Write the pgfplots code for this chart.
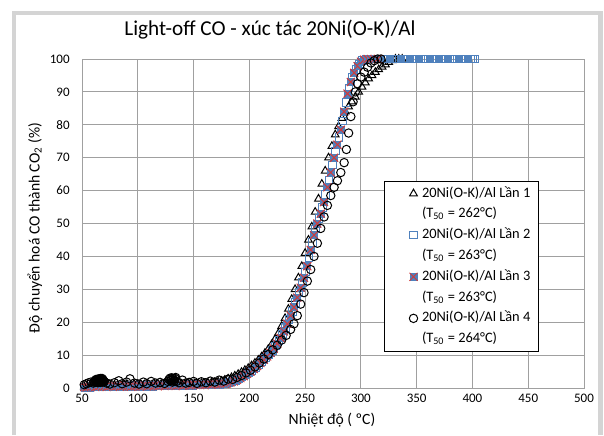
\documentclass[border=0pt]{standalone}
\usepackage{fontspec}
\setmainfont{Carlito}
\usepackage{pgfplots}
\pgfplotsset{compat=1.18}

\definecolor{xlblue}{HTML}{4F81BD}
\definecolor{xlred}{HTML}{D03A3A}
\definecolor{gridgray}{HTML}{A0A0A0}
\definecolor{framegray}{HTML}{D4D4D4}

% Excel style marker: filled blue square with a red cross
\pgfdeclareplotmark{sqx}{%
  \pgfpathrectangle{\pgfqpoint{-\pgfplotmarksize}{-\pgfplotmarksize}}{\pgfqpoint{2\pgfplotmarksize}{2\pgfplotmarksize}}%
  \pgfsetfillcolor{xlblue}\pgfusepath{fill}%
  \pgfsetstrokecolor{xlred}%
  \pgfpathmoveto{\pgfqpoint{-\pgfplotmarksize}{-\pgfplotmarksize}}%
  \pgfpathlineto{\pgfqpoint{\pgfplotmarksize}{\pgfplotmarksize}}%
  \pgfpathmoveto{\pgfqpoint{-\pgfplotmarksize}{\pgfplotmarksize}}%
  \pgfpathlineto{\pgfqpoint{\pgfplotmarksize}{-\pgfplotmarksize}}%
  \pgfusepath{stroke}}

\begin{document}
\begin{tikzpicture}[x=1pt,y=1pt]
\path[use as bounding box] (0pt,0pt) rectangle (302pt,217.5pt);
\draw[framegray, line width=2.2pt] (7pt,0pt) -- (7pt,211pt) -- (300.2pt,211pt) -- (300.2pt,0pt);

\begin{axis}[
  at={(41pt,23.5pt)}, anchor=south west,
  width=251pt, height=164.5pt, scale only axis,
  xmin=50, xmax=500, ymin=0, ymax=100,
  xtick={50,100,...,500}, ytick={0,10,...,100},
  grid=major, major grid style={gridgray, line width=0.5pt},
  axis line style={gridgray, line width=0.5pt},
  major tick length=0pt,
  tick label style={font=\fontsize{6.5}{7}\selectfont, inner sep=0pt},
  yticklabel style={xshift=-6pt},
  xticklabel style={yshift=-3pt},
  /pgf/number format/assume math mode=true,
  clip=false,
  legend cell align=left,
  legend image code/.code={\draw[mark repeat=2,mark phase=2,#1] plot coordinates {(0pt,0pt)(12.5pt,0pt)(14pt,0pt)};},
  empty legend/.style={legend image code/.code={}},
  legend style={at={(0.6016,0.629)}, anchor=north west, draw=black, line width=0.5pt,
    fill=white, font=\fontsize{7.2}{8}\selectfont, inner xsep=2pt, inner ysep=2.75pt,
    row sep=3.9pt, column sep=0pt,
    nodes={inner xsep=2pt, inner ysep=0pt, text height=5pt, text depth=1.5pt}},
]

% Lần 1
\addplot[only marks, mark=triangle, mark size=2.2pt, mark options={black, line width=0.5pt}] coordinates {
(52,0.4)(55,0.6)(58,0.5)(61,0.7)(64,0.6)(67,0.8)(70,0.7)(73,0.9)(76,0.7)(79,0.8)
(82,1.0)(85,0.8)(88,0.9)(91,1.0)(94,0.8)(97,1.0)(100,1.1)(103,0.9)(106,1.0)(109,1.1)
(112,0.9)(115,1.1)(118,1.0)(121,1.2)(124,1.0)(127,1.1)(130,1.2)(133,1.0)(136,1.1)(139,1.2)
(142,1.1)(145,1.3)(148,1.2)(151,1.3)(154,1.2)(157,1.4)(160,1.4)(163,1.5)(166,1.6)(169,1.7)
(172,1.9)(175,2.1)(178,2.4)(181,2.8)(184,3.2)(187,3.7)(190,4.2)(193,4.8)(196,5.4)(199,6.0)
(202,6.8)(205,7.6)(208,8.5)(211,9.5)(214,10.6)(217,11.8)(220,13.2)(223,14.8)(226,16.6)(229,18.8)
(232,21.2)(235,24.0)(238,27.0)(241,30.0)(244,33.5)(247,37.0)(250,41.0)(253,45.0)(256,49.0)(259,53.5)
(262,57.5)(265,62.0)(268,66.0)(271,70.0)(274,73.5)(277,77.0)(280,79.5)(283,82.0)(286,84.0)(289,85.5)
(292,87.0)(295,88.5)(298,90.0)(301,91.5)(304,92.8)(307,94.0)(310,95.0)(313,96.0)(316,96.8)(319,97.6)
(322,98.3)(325,99.0)(328,99.6)(331,100)(334,100)(337,100)
};
\addlegendentry{20Ni(O-K)/Al Lần 1}
\addlegendimage{empty legend}
\addlegendentry{(T\textsubscript{50} = 262°C)}

% Lần 2
\addplot[only marks, mark=square, mark size=1.9pt, mark options={xlblue, line width=0.5pt}] coordinates {
(53,0.2)(55,0.3)(57,0.2)(59,0.4)(61,0.3)(63,0.5)(65,0.3)(67,0.4)(69,0.5)(71,0.3)
(73,0.4)(75,0.5)(77,0.4)(79,0.6)(81,0.4)(83,0.5)(85,0.6)(87,0.4)(89,0.6)(91,0.5)
(93,0.7)(95,0.5)(97,0.6)(99,0.5)(101,0.7)(103,0.6)(105,0.5)(107,0.7)(109,0.6)(111,0.7)
(113,0.5)(115,0.7)(117,0.8)(119,0.6)(121,0.7)(123,0.8)(125,0.6)(127,0.8)(129,0.7)(131,0.9)
(133,0.7)(135,0.8)(137,0.9)(139,0.7)(141,0.9)(143,0.8)(145,0.9)(147,1.0)(149,0.8)(151,1.0)
(153,0.9)(155,1.0)(157,1.1)(159,0.9)(161,1.0)(163,1.1)(165,1.0)(167,1.2)(169,1.1)(171,1.2)
(173,1.1)(175,1.3)(177,1.3)(179,1.4)(181.5,1.6)(184.5,1.9)(187.5,2.3)(190.5,2.8)(193.5,3.3)(196.5,4.0)
(199.5,4.7)(202.5,5.4)(205.5,6.3)(208.5,7.2)(211.5,8.1)(214.5,9.1)(217.5,10.2)(220.5,11.4)(223.5,12.8)(226.5,14.4)
(229.5,16.2)(232.5,18.4)(235.5,20.8)(238.5,23.2)(241.5,26.0)(244.5,29.0)(247.5,32.0)(250.5,35.2)(253.5,39.5)(256.5,44.2)
(259.5,48.3)(262.5,51.5)(265.5,54.8)(268.5,58.8)(271.5,63.2)(274.5,67.8)(277.5,72.0)(280.5,76.2)(283.5,81.2)(286.5,86.8)
(289.5,91.2)(292.5,94.5)(295.5,96.8)(298.5,98.5)(301.5,99.5)(304.5,100)
(306,100)(308,100)(310,100)(312,100)(314,100)(316,100)(318,100)(320,100)(322,100)(324,100)
(326,100)(328,100)(330,100)(332,100)(334,100)(336,100)(338,100)(340,100)(342,100)(344,100)
(346,100)(348,100)(350,100)(352,100)(354,100)(356,100)(358,100)(360,100)(362,100)(364,100)
(366,100)(368,100)(370,100)(372,100)(374,100)(376,100)(378,100)(380,100)(382,100)(384,100)
(386,100)(388,100)(390,100)(392,100)(394,100)(396,100)(398,100)(400,100)(402,100)
};
\addlegendentry{20Ni(O-K)/Al Lần 2}
\addlegendimage{empty legend}
\addlegendentry{(T\textsubscript{50} = 263°C)}

% Lần 3
\addplot[only marks, mark=sqx, mark size=2.0pt, mark options={line width=0.5pt}] coordinates {
(52,0.3)(54,0.2)(56,0.4)(58,0.3)(60,0.5)(62,0.3)(64,0.4)(66,0.6)(68,0.4)(70,0.5)
(72,0.3)(74,0.5)(76,0.6)(78,0.4)(80,0.5)(82,0.6)(84,0.4)(86,0.5)(88,0.7)(90,0.5)
(92,0.6)(94,0.4)(96,0.6)(98,0.5)(100,0.7)(102,0.5)(104,0.6)(106,0.7)(108,0.5)(110,0.6)
(112,0.8)(114,0.6)(116,0.7)(118,0.5)(120,0.7)(122,0.8)(124,0.6)(126,0.7)(128,0.9)(130,0.7)
(132,0.8)(134,0.6)(136,0.8)(138,0.9)(140,0.7)(142,0.8)(144,1.0)(146,0.8)(148,0.9)(150,1.0)
(152,0.9)(154,1.0)(156,0.9)(158,1.1)(160,0.9)(162,1.0)(164,1.1)(166,1.0)(168,1.2)(170,1.1)
(172,1.2)(174,1.2)(176,1.3)(178,1.3)(180,1.4)(183,1.7)(186,2.0)(189,2.5)(192,3.0)(195,3.6)
(198,4.3)(201,5.0)(204,5.8)(207,6.7)(210,7.6)(213,8.6)(216,9.6)(219,10.7)(222,12.0)(225,13.5)
(228,15.2)(231,17.2)(234,19.5)(237,22.0)(240,24.5)(243,27.5)(246,30.5)(249,33.5)(252,37.0)(255,42.0)
(258,46.5)(261,50.0)(264,53.0)(267,56.5)(270,61.0)(273,65.5)(276,70.0)(279,74.0)(282,78.5)(285,84.0)
(288,89.5)(291,93.0)(294,95.8)(297,97.8)(300,99.2)(303,99.8)(306,100)(309,100)(312,100)(315,100)
};
\addlegendentry{20Ni(O-K)/Al Lần 3}
\addlegendimage{empty legend}
\addlegendentry{(T\textsubscript{50} = 263°C)}

% Lần 4
\addplot[only marks, mark=o, mark size=2.1pt, mark options={black, line width=0.5pt}] coordinates {
(52,1.0)(54,1.3)(56,1.6)(58,1.8)(60,1.5)(61,2.0)(61.5,1.7)(62,2.3)(62.3,1.9)(62.6,2.6)
(63,1.8)(63.2,2.2)(63.5,2.5)(63.8,1.7)(64,2.0)(64.2,2.7)(64.5,1.6)(64.7,2.3)(65,2.4)(65.2,1.9)
(65.5,2.8)(65.7,2.1)(66,2.1)(66.2,2.6)(66.5,1.7)(66.7,2.9)(67,2.6)(67.2,2.0)(67.5,2.2)(67.7,2.7)
(68,2.9)(68.2,1.8)(68.5,1.9)(68.7,2.5)(69,2.4)(69.5,2.0)(70,2.0)(72,1.5)(75,1.2)(79,1.6)
(83,2.2)(86,1.3)(90,1.8)(93,2.8)(97,1.5)(101,1.2)(105,1.8)(108,1.3)(112,2.0)(116,1.5)
(120,1.7)(124,1.4)(127,2.0)(128,2.6)(129,3.0)(129.5,2.2)(130,2.4)(130.5,3.1)(131,1.8)(131.5,2.5)
(132,2.8)(132.5,2.0)(133,2.2)(133.5,2.9)(134,3.2)(135,2.0)(137,1.6)(140,2.4)(143,1.5)(146,1.7)
(150,2.0)(153,1.4)(157,1.9)(161,1.6)(165,2.1)(169,1.8)(173,2.4)(177,2.1)(181,2.7)(185,2.6)
(189,3.2)(193,3.8)(197,4.6)(201,5.4)(205,6.4)(209,7.6)(213,8.8)(217,10.2)(221,11.6)(225,13.0)
(229,14.6)(233,16.0)(237,17.8)(240,19.5)(243,22.0)(246,25.5)(249,29.0)(252,32.5)(255,36.0)(258,40.0)
(261,44.0)(264,48.5)(267,52.0)(270,55.5)(273,58.5)(276,61.0)(279,63.0)(282,65.5)(285,68.5)(287,72.5)
(289,77.5)(291,82.5)(293,87.0)(295,90.0)(297,92.5)(300,94.5)(303,96.0)(306,97.5)(309,98.8)(312,99.5)
(315,100)(318,100)
};
\addlegendentry{20Ni(O-K)/Al Lần 4}
\addlegendimage{empty legend}
\addlegendentry{(T\textsubscript{50} = 264°C)}
\end{axis}

\node[font=\fontsize{10.6}{12}\selectfont, anchor=base] at (135pt,200pt) {Light-off CO - xúc tác 20Ni(O-K)/Al};
\node[font=\fontsize{7.8}{9}\selectfont, rotate=90] at (17.5pt,103.5pt) {Độ chuyển hoá CO thành CO\textsubscript{2} (\%)};
\node[font=\fontsize{7.8}{9}\selectfont] at (166pt,7.5pt) {Nhiệt độ ( ºC)};
\end{tikzpicture}
\end{document}
